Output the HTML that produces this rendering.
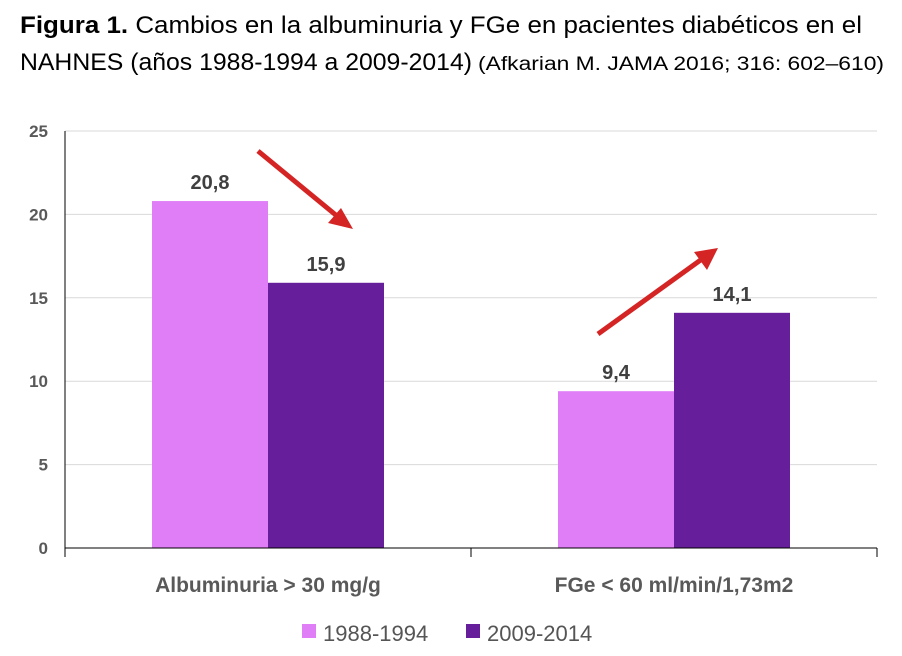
<!DOCTYPE html>
<html><head><meta charset="utf-8"><style>
body{margin:0;background:#fff}
svg{display:block;font-family:"Liberation Sans",sans-serif}
</style></head><body>
<svg width="902" height="656">
<text x="20" y="33" font-size="24" fill="#000" textLength="842" lengthAdjust="spacingAndGlyphs"><tspan font-weight="bold">Figura 1.</tspan> Cambios en la albuminuria y FGe en pacientes diabéticos en el</text>
<text x="20" y="70" font-size="24" fill="#000" textLength="452" lengthAdjust="spacingAndGlyphs">NAHNES (años 1988-1994 a 2009-2014)</text>
<text x="478" y="70" font-size="19" fill="#000" textLength="406" lengthAdjust="spacingAndGlyphs">(Afkarian M. JAMA 2016; 316: 602–610)</text>
<g id="grid"></g><g id="bars"></g><g id="axes"></g>
<g>
<line x1="258" y1="151" x2="337" y2="216" stroke="#D42424" stroke-width="5"/>
<polygon points="353,229 328,223 341,208" fill="#D42424"/></g>
<g>
<line x1="598" y1="334" x2="702" y2="259" stroke="#D42424" stroke-width="5"/>
<polygon points="718,248 707,270 694,252" fill="#D42424"/></g>
<g>
<rect x="302" y="624" width="14" height="14" fill="#E07EF7"/>
<text x="323" y="641" font-size="22" fill="#555">1988-1994</text>
<rect x="466" y="624" width="14" height="14" fill="#661E9A"/>
<text x="487" y="641" font-size="22" fill="#555">2009-2014</text>
</g>
</svg>
<script>
const categories=["Albuminuria > 30 mg/g","FGe < 60 ml/min/1,73m2"];
const series1988=[20.8,9.4];
const series2009=[15.9,14.1];
const labels1988=["20,8","9,4"];
const labels2009=["15,9","14,1"];
const yTicks=[0,5,10,15,20,25];
const NS="http://www.w3.org/2000/svg";
const x0=65,x1=877,yBase=548,yTop=131,yMax=25;
const y=v=>yBase-(v/yMax)*(yBase-yTop);
const catW=(x1-x0)/categories.length;
const bw=116;
function mk(tag,attrs,parent){const e=document.createElementNS(NS,tag);for(const k in attrs)e.setAttribute(k,attrs[k]);parent.appendChild(e);return e;}
const grid=document.getElementById('grid'),bars=document.getElementById('bars'),axes=document.getElementById('axes');
yTicks.forEach(t=>{
 if(t>0){const l=mk('line',{x1:x0,x2:x1,y1:y(t),y2:y(t),stroke:'#d9d9d9','stroke-width':1},grid);
 
 }
 const tx=mk('text',{x:48,y:y(t)+6,'font-size':17,'font-weight':'bold',fill:'#595959','text-anchor':'end'},axes);
 tx.textContent=t;
 
 
});
categories.forEach((c,i)=>{
 const cx=x0+catW*(i+0.5);
 [[series1988[i],labels1988[i],'#E07EF7',cx-bw,'1988'],[series2009[i],labels2009[i],'#661E9A',cx,'2009']].forEach(([v,lab,col,bx,s])=>{
  const r=mk('rect',{x:bx,y:y(v),width:bw,height:yBase-y(v),fill:col},bars);
  
  
  const t=mk('text',{x:bx+bw/2,y:y(v)-12,'font-size':20,'font-weight':'bold',fill:'#404040','text-anchor':'middle'},bars);
  t.textContent=lab;
  
  
 });
 const ct=mk('text',{x:cx,y:592,'font-size':21,'font-weight':'bold',fill:'#595959','text-anchor':'middle'},axes);
 ct.textContent=c;
 
 
});
const xa=mk('line',{x1:x0,x2:x1,y1:yBase,y2:yBase,stroke:'#000','stroke-width':1},axes);


const ya=mk('line',{x1:x0,x2:x0,y1:yTop,y2:yBase,stroke:'#000','stroke-width':1},axes);


for(let i=0;i<=categories.length;i++){
 const tk=mk('line',{x1:x0+catW*i,x2:x0+catW*i,y1:yBase,y2:yBase+9,stroke:'#000','stroke-width':1},axes);
 
 
}
</script>
</body></html>
